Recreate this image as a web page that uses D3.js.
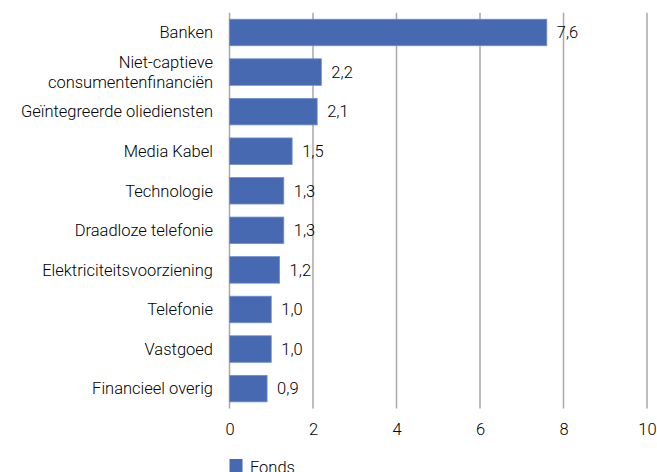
<!DOCTYPE html>
<html>
<head>
<meta charset="utf-8">
<script src="https://cdn.jsdelivr.net/npm/d3@7"></script>
<style>
  html, body { margin: 0; padding: 0; background: #fff; }
  svg { display: block; }
  text { font-family: Roboto, "Open Sans", sans-serif; font-weight: 300; fill: #000; }
</style>
</head>
<body>
<svg id="chart" width="657" height="472"></svg>
<script>
// Sector weights of the fund (%)
const categories = [
  ["Banken"],
  ["Niet-captieve", "consumentenfinanciën"],
  ["Geïntegreerde oliediensten"],
  ["Media Kabel"],
  ["Technologie"],
  ["Draadloze telefonie"],
  ["Elektriciteitsvoorziening"],
  ["Telefonie"],
  ["Vastgoed"],
  ["Financieel overig"]
];
const values = [7.6, 2.2, 2.1, 1.5, 1.3, 1.3, 1.2, 1.0, 1.0, 0.9];
const xTicks = [0, 2, 4, 6, 8, 10];
const seriesName = "Fonds";

const svg = d3.select("#chart");
const margin = { left: 229.5, top: 12.7, bottom: 63.6 };
const H = 472;

const x = d3.scaleLinear().domain([0, 10]).range([margin.left, 647]);
const y = d3.scaleBand()
  .domain(d3.range(categories.length))
  .range([margin.top, H - margin.bottom])
  .paddingInner(0.33)
  .paddingOuter(0.165);

const fontSize = 16.5;
const barColor = "#4669b2";
const fmt = v => d3.format(".1f")(v).replace(".", ",");

// vertical gridlines (the zero line doubles as the axis)
svg.append("g")
  .selectAll("line")
  .data(xTicks)
  .join("line")
  .attr("x1", d => x(d)).attr("x2", d => x(d))
  .attr("y1", margin.top).attr("y2", H - margin.bottom)
  .attr("stroke", "#a9a9a9")
  .attr("stroke-width", 1.5);

// x tick labels
const xAxis = d3.axisBottom(x).tickValues(xTicks).tickSize(0).tickPadding(0)
  .tickFormat(d => d);
svg.append("g")
  .attr("transform", `translate(0,${H - margin.bottom})`)
  .call(xAxis)
  .call(g => g.select(".domain").remove())
  .call(g => g.selectAll("text")
    .attr("y", 26.5)
    .attr("dy", null)
    .style("font-size", fontSize + "px")
    .style("font-family", 'Roboto, "Open Sans", sans-serif')
    .style("font-weight", 300)
    .attr("fill", "#000"));

// bars
svg.append("g")
  .selectAll("rect")
  .data(values)
  .join("rect")
  .attr("x", x(0))
  .attr("y", (d, i) => y(i))
  .attr("width", d => x(d) - x(0))
  .attr("height", y.bandwidth())
  .attr("fill", barColor)
  .attr("stroke", "#6d8fd0")
  .attr("stroke-width", 0.8);

// value labels
svg.append("g")
  .selectAll("text")
  .data(values)
  .join("text")
  .attr("x", d => x(d) + 10)
  .attr("y", (d, i) => y(i) + y.bandwidth() / 2)
  .attr("dy", "0.35em")
  .style("font-size", fontSize + "px")
  .text(d => fmt(d));

// category labels
const cat = svg.append("g")
  .selectAll("text")
  .data(categories)
  .join("text")
  .attr("text-anchor", "end")
  .attr("x", 213)
  .attr("y", (d, i) => y(i) + y.bandwidth() / 2)
  .style("font-size", fontSize + "px");
cat.each(function(lines) {
  const t = d3.select(this);
  const lh = 19.5;
  const off = -(lines.length - 1) * lh / 2;
  lines.forEach((ln, j) => {
    t.append("tspan")
      .attr("x", 213)
      .attr("dy", j === 0 ? (off / fontSize + 0.35) + "em" : lh + "px")
      .text(ln);
  });
});

// legend
const lg = svg.append("g");
lg.append("rect")
  .attr("x", 229.5).attr("y", 459)
  .attr("width", 13).attr("height", 13)
  .attr("fill", barColor);
lg.append("text")
  .attr("x", 250).attr("y", 473)
  .style("font-size", fontSize + "px")
  .text(seriesName);
</script>
</body>
</html>
